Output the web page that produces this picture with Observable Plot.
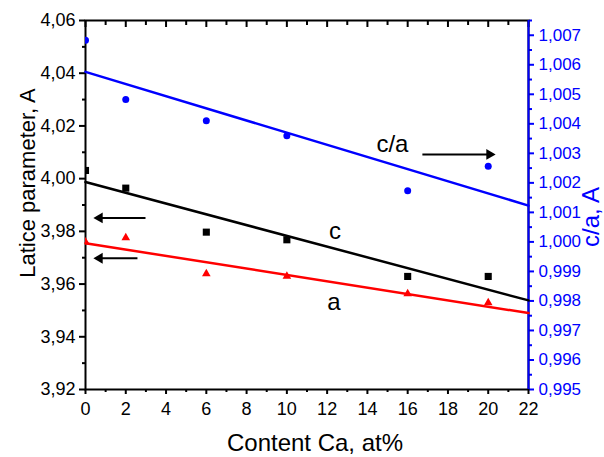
<!DOCTYPE html>
<html><head><meta charset="utf-8">
<script src="https://cdn.jsdelivr.net/npm/d3@7"></script>
<script src="https://cdn.jsdelivr.net/npm/@observablehq/plot@0.6"></script>
<style>body{margin:0;background:#fff}</style>
</head><body><div id="chart"></div>
<script>
// ---- data ----
const content = [0, 2, 6, 10, 16, 20];                    // Content Ca, at%
const paramC  = [4.0031, 3.9964, 3.9797, 3.9768, 3.9629, 3.9629];
const paramA  = [3.9760, 3.9776, 3.9639, 3.9630, 3.9563, 3.9529];
const ratioCA = [1.00683, 1.00482, 1.00410, 1.00360, 1.00173, 1.00256];
// fitted lines (end points)
const fitX  = [0, 22];
const fitC  = [3.9987, 3.9538];
const fitA  = [3.9755, 3.9490];
const fitCA = [1.00576, 1.00123];
// ticks
const xTicks = [0, 2, 4, 6, 8, 10, 12, 14, 16, 18, 20, 22];
const xMinor = [1, 3, 5, 7, 9, 11, 13, 15, 17, 19, 21];
const leftTicks = [3.92, 3.94, 3.96, 3.98, 4.00, 4.02, 4.04, 4.06];
const leftMinor = [3.93, 3.95, 3.97, 3.99, 4.01, 4.03, 4.05];
const rightTicks = [0.995, 0.996, 0.997, 0.998, 0.999, 1.000, 1.001, 1.002, 1.003, 1.004, 1.005, 1.006, 1.007];
const rightMinor = [0.9955, 0.9965, 0.9975, 0.9985, 0.9995, 1.0005, 1.0015, 1.0025, 1.0035, 1.0045, 1.0055, 1.0065, 1.0075];
const leftDomain = [3.92, 4.06];
const rightDomain = [0.995, 1.0075];
// annotations
const noteText = ["c/a", "c", "a"];
const noteX = [15.24, 12.39, 12.34];
const noteY = [4.0130, 3.9800, 3.9532];
const arrowX1 = [16.73, 2.98, 2.58];
const arrowX2 = [20.06, 0.70, 0.70];
const arrowY  = [4.0092, 3.9851, 3.9698];
const arrowRot = [90, -90, -90];

const blue = "#0000ff";
const toLeft = d3.scaleLinear().domain(rightDomain).range(leftDomain);
const fmt2 = d => d.toFixed(2).replace(".", ",");
const fmt3 = d => d.toFixed(3).replace(".", ",");

const pts = content.map((x, i) => ({x, c: paramC[i], a: paramA[i], ca: ratioCA[i]}));
const fits = fitX.map((x, i) => ({x, c: fitC[i], a: fitA[i], ca: fitCA[i]}));
const notes = noteText.map((t, i) => ({t, x: noteX[i], y: noteY[i]}));
const arrows = arrowX1.map((x1, i) => ({x1, x2: arrowX2[i], y: arrowY[i], r: arrowRot[i]}));

const chart = Plot.plot({
  width: 604, height: 457,
  marginLeft: 85, marginRight: 76, marginTop: 20, marginBottom: 68,
  style: {fontFamily: "'Liberation Sans', Arial, sans-serif", fontSize: "17px", background: "#fff", color: "#000"},
  x: {domain: [0, 22]},
  y: {domain: leftDomain},
  marks: [
    Plot.axisX({ticks: xTicks, tickSize: 5, tickPadding: 8, tickFormat: d => String(d), label: null, strokeWidth: 2, fontSize: 18}),
    Plot.axisX({ticks: xMinor, tickSize: 3, fill: "none", label: null, strokeWidth: 2}),
    // inward ticks on the top edge (outward ticks shifted down by their length)
    Plot.axisX({anchor: "top", ticks: xTicks, tickSize: 6, dy: 6, fill: "none", label: null, strokeWidth: 2}),
    Plot.axisX({anchor: "top", ticks: xMinor, tickSize: 4, dy: 4, fill: "none", label: null, strokeWidth: 2}),
    Plot.axisY({ticks: leftTicks, tickSize: 6, tickPadding: 4, tickFormat: fmt2, label: null, strokeWidth: 2, fontSize: 18}),
    Plot.axisY({ticks: leftMinor, tickSize: 3, fill: "none", label: null, strokeWidth: 2}),
    Plot.axisY({anchor: "right", ticks: rightTicks.map(toLeft), tickSize: 5, tickPadding: 5,
                tickFormat: d => fmt3(toLeft.invert(d)), color: blue, label: null, strokeWidth: 2, fontSize: 17}),
    Plot.axisY({anchor: "right", ticks: rightMinor.map(toLeft), tickSize: 3, fill: "none", stroke: blue, label: null, strokeWidth: 2}),
    Plot.frame({stroke: "black", strokeWidth: 2}),
    Plot.ruleX([22], {stroke: blue, strokeWidth: 2}),
    // data
    Plot.dot(pts, {x: "x", y: "c", symbol: "square", r: 4, fill: "black", clip: true}),
    Plot.dot(pts, {x: "x", y: "a", symbol: "triangle", r: 3.2, fill: "#ff0000", clip: true}),
    Plot.dot(pts, {x: "x", y: d => toLeft(d.ca), r: 3.5, fill: blue, clip: true}),
    Plot.line(fits, {x: "x", y: "c", stroke: "black", strokeWidth: 2.5}),
    Plot.line(fits, {x: "x", y: "a", stroke: "#ff0000", strokeWidth: 2.5}),
    Plot.line(fits, {x: "x", y: d => toLeft(d.ca), stroke: blue, strokeWidth: 2.5}),
    // annotations
    Plot.text(notes, {x: "x", y: "y", text: "t", fontSize: 24, fill: "black", textAnchor: "middle", lineAnchor: "middle"}),
    Plot.link(arrows, {x1: "x1", x2: "x2", y1: "y", y2: "y", stroke: "black", strokeWidth: 2}),
    Plot.dot(arrows, {x: "x2", y: "y", symbol: "triangle", rotate: "r", r: 4, fill: "black"}),
    // axis titles
    Plot.text(["Latice parameter, A"], {frameAnchor: "left", rotate: -90, dx: -58, dy: -22, fontSize: 22, textAnchor: "middle", lineAnchor: "middle", fill: "black"}),
    Plot.text(["Content Ca, at%"], {frameAnchor: "bottom", dx: 8, dy: 54, fontSize: 24, textAnchor: "middle", lineAnchor: "middle", fill: "black"}),
    Plot.text(["c/a, A"], {frameAnchor: "right", rotate: -90, dx: 63, dy: 12, fontSize: 24, textAnchor: "middle", lineAnchor: "middle", fill: blue})
  ]
});
document.getElementById("chart").appendChild(chart);
</script>
</body></html>
